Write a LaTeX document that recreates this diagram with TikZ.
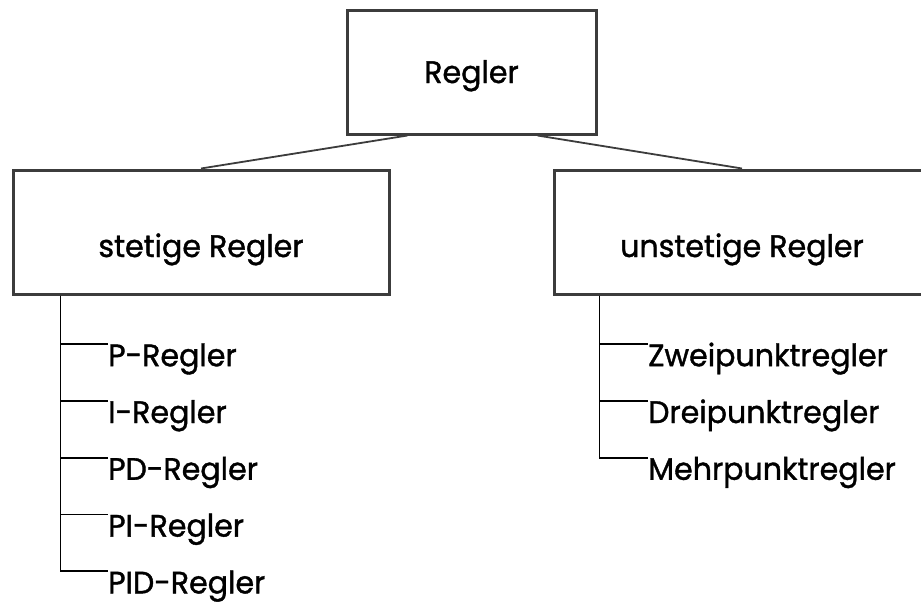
\documentclass[tikz,border=0pt]{standalone}
\usepackage{fontspec}
\setmainfont{Poppins}[FakeStretch=0.97, FakeBold=1.2]
\usetikzlibrary{calc}
\definecolor{boxgray}{HTML}{3C3C3C}
\tikzset{ box/.style = { rectangle
                       , draw = boxgray
                       , line width     = 3pt
                       , minimum height = 124pt
                       , minimum width  = 376pt
                       , text height    = 50pt
                       , text depth     = 0pt
                       },
          item/.style = { anchor     = north west
                        , inner sep   = 0pt
                        , text height = 22pt
                        },
          conn/.style = { draw = boxgray
                        , line width = 1.8pt
                        },
          tick/.style = { draw = black
                        , line width = 1.8pt
                        }
        }

\begin{document}
\begin{tikzpicture}[x=1pt, y=-1pt, font=\fontsize{31pt}{36pt}\selectfont]
  \useasboundingbox (0,0) rectangle (921,605);
  \node[box, minimum width=249pt, text height=22pt] (regler) at (471.5,72) {Regler};
  \node[box] (stetig)   at (201,232) {stetige Regler};
  \node[box] (unstetig) at (742,232) {unstetige Regler};
  \draw[conn] ([xshift=-64pt]regler.south) -- (stetig.north);
  \draw[conn] ([xshift=66pt]regler.south) -- (unstetig.north);
  % stetige Regler
  \foreach \name/\txt [count=\i] in {p/P-Regler, i/I-Regler, pd/PD-Regler, pi/PI-Regler, pid/PID-Regler}
  {
    \node[item] (s\name) at (108, {344+56.8*(\i-1)}) {\txt};
    \draw[tick] ($(stetig.south west)+(49,0)$) |- (s\name.north west);
  }
  % unstetige Regler
  \foreach \name/\txt [count=\i] in {zwei/Zweipunktregler, drei/Dreipunktregler, mehr/Mehrpunktregler}
  {
    \node[item] (u\name) at (648, {344+56.8*(\i-1)}) {\txt};
    \draw[tick] ($(unstetig.south west)+(47,0)$) |- (u\name.north west);
  }
\end{tikzpicture}
\end{document}
